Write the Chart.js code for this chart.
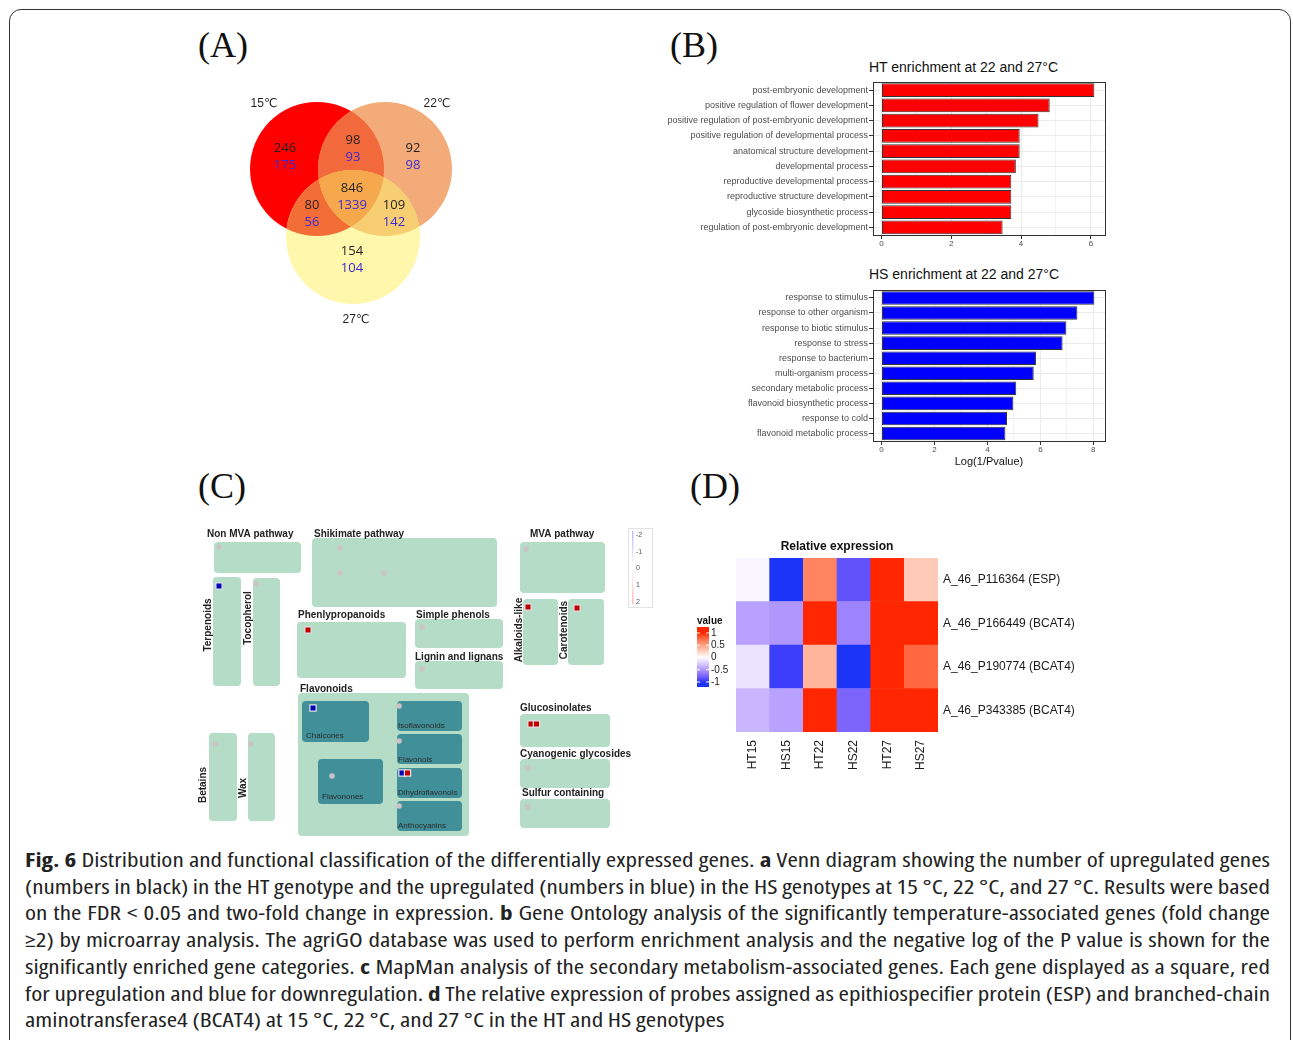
<!DOCTYPE html>
<html>
<head>
<meta charset="utf-8">
<script src="https://cdn.jsdelivr.net/npm/chart.js@4.4.1/dist/chart.umd.min.js"></script>
<style>
  body { margin: 0; width: 1293px; height: 1040px; overflow: hidden; background: #fff; position: relative;
         font-family: "Liberation Sans", Arial, sans-serif; }
  .frame { position: absolute; left: 9px; top: 9px; width: 1282px; height: 1050px; box-sizing: border-box;
           border: 1.5px solid #333; border-radius: 12px; }
  .panel { position: absolute; font-family: "Liberation Serif", "Times New Roman", serif; font-size: 36px;
           line-height: 36px; color: #111; }
  .gotitle { position: absolute; font-size: 14px; line-height: 16px; color: #111; white-space: nowrap; }
  .caption { position: absolute; left: 25px; top: 847px; width: 1245px; color: #222; transform-origin: 0 0;
             font-family: "Open Sans", "Liberation Sans", sans-serif; font-stretch: 80%;
             font-size: 20px; line-height: 26.7px; }
  .caption div { white-space: nowrap; text-align: justify; text-align-last: justify; }
  .caption div.last { text-align-last: left; }
  canvas { position: absolute; }
</style>
</head>
<body>
<div class="frame"></div>
<div class="panel" style="left:198px;top:27px">(A)</div>
<div class="panel" style="left:670px;top:27px">(B)</div>
<div class="panel" style="left:198px;top:468px">(C)</div>
<div class="panel" style="left:690px;top:468px">(D)</div>
<div class="gotitle" style="left:869px;top:59px">HT enrichment at 22 and 27°C</div>
<div class="gotitle" style="left:869px;top:266px">HS enrichment at 22 and 27°C</div>

<div class="caption">
  <div><b>Fig. 6</b> Distribution and functional classification of the differentially expressed genes. <b>a</b> Venn diagram showing the number of upregulated genes</div>
  <div>(numbers in black) in the HT genotype and the upregulated (numbers in blue) in the HS genotypes at 15 °C, 22 °C, and 27 °C. Results were based</div>
  <div>on the FDR &lt; 0.05 and two-fold change in expression. <b>b</b> Gene Ontology analysis of the significantly temperature-associated genes (fold change</div>
  <div>≥2) by microarray analysis. The agriGO database was used to perform enrichment analysis and the negative log of the P value is shown for the</div>
  <div>significantly enriched gene categories. <b>c</b> MapMan analysis of the secondary metabolism-associated genes. Each gene displayed as a square, red</div>
  <div>for upregulation and blue for downregulation. <b>d</b> The relative expression of probes assigned as epithiospecifier protein (ESP) and branched-chain</div>
  <div class="last">aminotransferase4 (BCAT4) at 15 °C, 22 °C, and 27 °C in the HT and HS genotypes</div>
</div>

<script>
// (A) Venn counts
const vennSets = ['15℃', '22℃', '27℃'];
const vennRegions = ['15', '22', '27', '15&22', '15&27', '22&27', '15&22&27'];
const htUp = [246, 92, 154, 98, 80, 109, 846];
const hsUp = [175, 98, 104, 93, 56, 142, 1339];

// (B) GO enrichment, Log(1/Pvalue)
const htTerms = ['post-embryonic development', 'positive regulation of flower development',
  'positive regulation of post-embryonic development', 'positive regulation of developmental process',
  'anatomical structure development', 'developmental process', 'reproductive developmental process',
  'reproductive structure development', 'glycoside biosynthetic process', 'regulation of post-embryonic development'];
const htScore = [6.10, 4.82, 4.50, 3.96, 3.96, 3.85, 3.72, 3.72, 3.72, 3.47];
const hsTerms = ['response to stimulus', 'response to other organism', 'response to biotic stimulus',
  'response to stress', 'response to bacterium', 'multi-organism process', 'secondary metabolic process',
  'flavonoid biosynthetic process', 'response to cold', 'flavonoid metabolic process'];
const hsScore = [8.04, 7.40, 6.98, 6.84, 5.84, 5.75, 5.09, 4.98, 4.74, 4.68];

// (C) MapMan genes
const geneBins = ['Terpenoids', 'Phenlypropanoids', 'Chalcones', 'Dihydroflavonols', 'Dihydroflavonols',
  'Alkaloids-like', 'Carotenoids', 'Glucosinolates', 'Glucosinolates'];
const geneFC = [-2, 2, -2, -2, 2, 2, 2, 2, 2];
const mapLegendTicks = [-2, -1, 0, 1, 2];

// (D) heatmap
const probes = ['A_46_P116364 (ESP)', 'A_46_P166449 (BCAT4)', 'A_46_P190774 (BCAT4)', 'A_46_P343385 (BCAT4)'];
const conditions = ['HT15', 'HS15', 'HT22', 'HS22', 'HT27', 'HS27'];
const exprESP = [-0.04, -1.0, 0.65, -0.85, 1.0, 0.28];
const expr166449 = [-0.45, -0.5, 1.0, -0.6, 1.0, 1.0];
const expr190774 = [-0.13, -0.95, 0.4, -1.0, 1.0, 0.78];
const expr343385 = [-0.35, -0.45, 1.0, -0.75, 1.0, 1.0];
const heatLegendTicks = [1, 0.5, 0, -0.5, -1];

Chart.defaults.font.family = '"Liberation Sans", Arial, sans-serif';
Chart.defaults.animation = false;
Chart.defaults.events = [];
Chart.defaults.plugins.legend.display = false;
Chart.defaults.plugins.tooltip.enabled = false;

// caption: justify each line to its widest natural width, then scale to the text block width
(function fitCaption() {
  const cap = document.querySelector('.caption');
  const lines = Array.from(cap.children);
  let w = 0;
  lines.forEach(l => { l.style.display = 'inline-block'; w = Math.max(w, l.getBoundingClientRect().width); l.style.display = ''; });
  cap.style.width = w + 'px';
  cap.style.transform = 'scaleX(' + (1245 / w) + ')';
})();

function makeCanvas(left, top, w, h) {
  const c = document.createElement('canvas');
  c.width = w; c.height = h;
  c.style.left = left + 'px'; c.style.top = top + 'px';
  c.style.width = w + 'px'; c.style.height = h + 'px';
  document.body.appendChild(c);
  return c;
}

// ---------- (A) Venn ----------
const vennCenters = [[127, 79], [195, 79], [163, 147]];
const vennRadius = 67;
const vennLabelPos = [[74, 14], [247, 14], [166, 230]];
const regionPos = [[95, 58], [223, 58], [162, 161], [163, 50], [122, 115], [204, 115], [162, 98]];

const vennPlugin = {
  id: 'venn',
  afterDatasetsDraw(chart) {
    const { ctx, scales: { x, y } } = chart;
    const c = vennCenters.map(p => [x.getPixelForValue(p[0]), y.getPixelForValue(p[1])]);
    const clip = i => { ctx.beginPath(); ctx.arc(c[i][0], c[i][1], vennRadius, 0, Math.PI * 2); ctx.clip(); };
    [[0, 1, '#f26a3b'], [0, 2, '#f36e36'], [1, 2, '#f7ce72']].forEach(([a, b, col]) => {
      ctx.save(); clip(a); clip(b); ctx.fillStyle = col; ctx.fillRect(0, 0, chart.width, chart.height); ctx.restore();
    });
    ctx.save(); clip(0); clip(1); clip(2); ctx.fillStyle = '#f5a94c'; ctx.fillRect(0, 0, chart.width, chart.height); ctx.restore();

    ctx.save();
    ctx.textAlign = 'center'; ctx.textBaseline = 'middle';
    ctx.font = '12px "Liberation Sans", "DejaVu Sans", sans-serif';
    ctx.fillStyle = '#231f20';
    vennSets.forEach((s, i) => ctx.fillText(s, x.getPixelForValue(vennLabelPos[i][0]), y.getPixelForValue(vennLabelPos[i][1])));
    ctx.font = '13px "Open Sans", "Liberation Sans", sans-serif';
    vennRegions.forEach((r, i) => {
      const px = x.getPixelForValue(regionPos[i][0]), py = y.getPixelForValue(regionPos[i][1]);
      ctx.fillStyle = '#231f20'; ctx.fillText(htUp[i], px, py);
      ctx.fillStyle = '#3b2bd4'; ctx.fillText(hsUp[i], px, py + 17);
    });
    ctx.restore();
  }
};

new Chart(makeCanvas(190, 90, 290, 250), {
  type: 'scatter',
  data: { datasets: [{ data: vennCenters.map(p => ({ x: p[0], y: p[1] })), pointRadius: vennRadius, clip: false,
    backgroundColor: ['#ff0000', '#f3ab79', '#fef7ac'], borderWidth: 0 }] },
  options: { responsive: false, layout: { padding: 0, autoPadding: false },
    scales: { x: { display: false, min: 0, max: 290 }, y: { display: false, min: 0, max: 250, reverse: true } } },
  plugins: [vennPlugin]
});

// ---------- (B) GO bars ----------
const panelBorder = {
  id: 'panelBorder',
  afterDraw(chart) {
    const a = chart.chartArea, ctx = chart.ctx;
    ctx.save(); ctx.strokeStyle = '#333'; ctx.lineWidth = 1;
    ctx.strokeRect(Math.round(a.left) + 0.5, Math.round(a.top) + 0.5, Math.round(a.right - a.left), Math.round(a.bottom - a.top));
    ctx.restore();
  }
};

function goChart(top, height, terms, scores, fill, axisH, axisTitle) {
  const hi = Math.max(...scores);
  new Chart(makeCanvas(660, top, 450, height), {
    type: 'bar',
    data: { labels: terms, datasets: [{ data: scores, backgroundColor: fill, borderColor: '#333', borderWidth: 1,
      borderSkipped: false, categoryPercentage: 0.9, barPercentage: 1 }] },
    options: {
      responsive: false, indexAxis: 'y',
      layout: { padding: { top: 5, right: 5, left: 0, bottom: 0 } },
      scales: {
        x: {
          min: -0.04 * hi, max: 1.05 * hi,
          afterFit(s) { s.height = axisH; },
          border: { display: false },
          grid: { color: '#ebebeb', lineWidth: c => (c.tick && c.tick.value % 2 === 0 ? 1 : 0.6),
            tickColor: c => (c.tick && c.tick.value % 2 === 0 ? '#333' : 'rgba(0,0,0,0)'), tickLength: 4 },
          ticks: { stepSize: 1, includeBounds: false, autoSkip: false, maxRotation: 0, padding: 0,
            color: '#4d4d4d', font: { size: 8 }, callback: v => (v % 2 === 0 ? v : '') },
          title: { display: !!axisTitle, text: axisTitle, color: '#111', font: { size: 11 }, padding: { top: 0, bottom: 7 } }
        },
        y: {
          afterFit(s) { s.width = 213; },
          border: { display: false },
          grid: { color: '#ebebeb', offset: false, tickColor: '#333', tickLength: 4 },
          ticks: { color: '#4d4d4d', font: { size: 9 }, padding: 1, autoSkip: false }
        }
      }
    },
    plugins: [panelBorder]
  });
}
goChart(76, 179, htTerms, htScore, '#ff0000', 20, '');
goChart(284, 192, hsTerms, hsScore, '#0000ff', 35, 'Log(1/Pvalue)');

// ---------- (C) MapMan ----------
const mapLayout = {
  'Non MVA pathway': { box: [19, 22, 106, 53], slot: [24, 27], label: [12, 14, 'h'] },
  'Shikimate pathway': { box: [117, 18, 302, 87], slot: [145, 28], extra: [[145, 53], [189, 53]], label: [119, 14, 'h'] },
  'Terpenoids': { box: [18, 57, 46, 166], slot: [24, 66], label: [13, 105, 'v'] },
  'Tocopherol': { box: [58, 58, 85, 166], slot: [61, 64], label: [53, 98, 'v'] },
  'Phenlypropanoids': { box: [102, 102, 211, 158], slot: [113, 110], label: [103, 95, 'h'] },
  'Simple phenols': { box: [220, 99, 308, 128], slot: [227, 107], label: [221, 95, 'h'] },
  'Lignin and lignans': { box: [220, 141, 308, 169], slot: [227, 149], label: [220, 137, 'h'] },
  'Flavonoids': { box: [103, 173, 274, 316], label: [105, 169, 'h'] },
  'Betains': { box: [14, 213, 42, 301], slot: [20, 224], label: [8, 265, 'v'] },
  'Wax': { box: [53, 213, 80, 301], slot: [56, 224], label: [48, 268, 'v'] },
  'MVA pathway': { box: [325, 22, 410, 73], slot: [331, 29], label: [335, 14, 'h'] },
  'Alkaloids-like': { box: [328, 79, 363, 145], slot: [333, 87], label: [324, 110, 'v'] },
  'Carotenoids': { box: [373, 79, 409, 145], slot: [382, 88], label: [369, 110, 'v'] },
  'Glucosinolates': { box: [325, 194, 415, 227], slot: [336, 204], label: [325, 188, 'h'] },
  'Cyanogenic glycosides': { box: [325, 239, 415, 268], slot: [333, 248], label: [325, 234, 'h'] },
  'Sulfur containing': { box: [325, 279, 415, 308], slot: [333, 287], label: [327, 273, 'h'] },
  'Chalcones': { box: [107, 181, 174, 222], slot: [118, 188], label: [111, 216, 'in'], dark: true },
  'Flavonones': { box: [123, 239, 188, 284], slot: [137, 256], label: [127, 277, 'in'], dark: true },
  'Isoflavonoids': { box: [202, 181, 267, 211], slot: [204, 186], label: [203, 206, 'in'], dark: true },
  'Flavonols': { box: [202, 214, 267, 244], slot: [204, 221], label: [203, 240, 'in'], dark: true },
  'Dihydroflavonols': { box: [202, 248, 267, 278], slot: [207, 253], label: [203, 273, 'in'], dark: true },
  'Anthocyanins': { box: [202, 281, 267, 311], slot: [204, 286], label: [203, 306, 'in'], dark: true }
};

const genePoints = [];
const geneCount = {};
geneBins.forEach((b, i) => {
  const k = geneCount[b] || 0; geneCount[b] = k + 1;
  const s = mapLayout[b].slot;
  genePoints.push({ x: s[0] + k * 5.5, y: s[1], v: geneFC[i] });
});
const emptyPoints = [];
Object.keys(mapLayout).forEach(b => {
  const L = mapLayout[b];
  if (L.slot && !geneCount[b]) emptyPoints.push({ x: L.slot[0], y: L.slot[1] });
  (L.extra || []).forEach(p => emptyPoints.push({ x: p[0], y: p[1] }));
});

const mapPlugin = {
  id: 'mapman',
  beforeDatasetsDraw(chart) {
    const { ctx, scales: { x, y } } = chart;
    ctx.save();
    Object.keys(mapLayout).forEach(b => {
      const L = mapLayout[b];
      const x0 = x.getPixelForValue(L.box[0]), y0 = y.getPixelForValue(L.box[1]);
      const x1 = x.getPixelForValue(L.box[2]), y1 = y.getPixelForValue(L.box[3]);
      ctx.fillStyle = L.dark ? '#418f99' : '#b4dcc7';
      ctx.beginPath(); ctx.roundRect(x0, y0, x1 - x0, y1 - y0, 4); ctx.fill();
      const lx = x.getPixelForValue(L.label[0]), ly = y.getPixelForValue(L.label[1]);
      ctx.textBaseline = 'middle';
      if (L.label[2] === 'in') {
        ctx.font = '8px "Liberation Sans", Arial, sans-serif'; ctx.fillStyle = '#2a2a2a'; ctx.textAlign = 'left';
        ctx.fillText(b, lx, ly);
      } else if (L.label[2] === 'v') {
        ctx.font = 'bold 10px "Liberation Sans", Arial, sans-serif'; ctx.fillStyle = '#222'; ctx.textAlign = 'center';
        ctx.save(); ctx.translate(lx, ly); ctx.rotate(-Math.PI / 2); ctx.fillText(b, 0, 0); ctx.restore();
      } else {
        ctx.font = 'bold 10px "Liberation Sans", Arial, sans-serif'; ctx.fillStyle = '#222'; ctx.textAlign = 'left';
        ctx.fillText(b, lx, ly);
      }
    });
    // colour legend
    const gx = x.getPixelForValue(433), gy = y.getPixelForValue(8);
    ctx.strokeStyle = '#e3e3e3'; ctx.lineWidth = 1;
    ctx.strokeRect(gx + 0.5, gy + 0.5, 24, 79);
    const g = ctx.createLinearGradient(0, gy + 3, 0, gy + 76);
    g.addColorStop(0, '#b8b8ff'); g.addColorStop(0.5, '#ffffff'); g.addColorStop(1, '#ffb8b8');
    ctx.fillStyle = g; ctx.fillRect(gx + 4, gy + 3, 1.5, 73);
    ctx.font = '7px "Liberation Sans", Arial, sans-serif'; ctx.fillStyle = '#555'; ctx.textAlign = 'left';
    mapLegendTicks.forEach((t, i) => ctx.fillText(t, gx + 8, y.getPixelForValue(15 + i * 16.75)));
    ctx.restore();
  }
};

new Chart(makeCanvas(195, 520, 465, 320), {
  type: 'scatter',
  data: { datasets: [
    { data: emptyPoints, pointRadius: 2.8, backgroundColor: '#cbc3c6', borderWidth: 0, clip: false },
    { data: genePoints, pointStyle: 'rect', pointRadius: 4.4, clip: false,
      backgroundColor: genePoints.map(p => (p.v > 0 ? '#c00000' : '#0000b8')),
      borderColor: '#e4e4e4', borderWidth: 1.2 }
  ] },
  options: { responsive: false, layout: { padding: 0, autoPadding: false },
    scales: { x: { display: false, min: 0, max: 465 }, y: { display: false, min: 0, max: 320, reverse: true } } },
  plugins: [mapPlugin]
});

// ---------- (D) heatmap ----------
function toLin(c) { c /= 255; return c <= 0.04045 ? c / 12.92 : Math.pow((c + 0.055) / 1.055, 2.4); }
function toSrgb(c) { const v = c <= 0.0031308 ? 12.92 * c : 1.055 * Math.pow(c, 1 / 2.4) - 0.055; return Math.round(Math.max(0, Math.min(1, v)) * 255); }
function hexLab(h) {
  const r = toLin(parseInt(h.substr(1, 2), 16)), g = toLin(parseInt(h.substr(3, 2), 16)), b = toLin(parseInt(h.substr(5, 2), 16));
  const X = (0.4124 * r + 0.3576 * g + 0.1805 * b) / 0.95047, Y = 0.2126 * r + 0.7152 * g + 0.0722 * b, Z = (0.0193 * r + 0.1192 * g + 0.9505 * b) / 1.08883;
  const f = t => (t > 0.008856 ? Math.cbrt(t) : 7.787 * t + 16 / 116);
  return [116 * f(Y) - 16, 500 * (f(X) - f(Y)), 200 * (f(Y) - f(Z))];
}
function labRgb(L, a, b) {
  const fy = (L + 16) / 116, fx = a / 500 + fy, fz = fy - b / 200;
  const fi = t => (t * t * t > 0.008856 ? t * t * t : (t - 16 / 116) / 7.787);
  const X = 0.95047 * fi(fx), Y = fi(fy), Z = 1.08883 * fi(fz);
  return 'rgb(' + toSrgb(3.2406 * X - 1.5372 * Y - 0.4986 * Z) + ',' + toSrgb(-0.9689 * X + 1.8758 * Y + 0.0415 * Z) + ',' +
    toSrgb(0.0557 * X - 0.2040 * Y + 1.0570 * Z) + ')';
}
const labLow = hexLab('#1a34f8'), labMid = hexLab('#ffffff'), labHigh = hexLab('#ff2600');
function heatColor(v) {
  const t = Math.max(-1, Math.min(1, v));
  const end = t < 0 ? labLow : labHigh, k = Math.abs(t);
  return labRgb(labMid[0] + (end[0] - labMid[0]) * k, labMid[1] + (end[1] - labMid[1]) * k, labMid[2] + (end[2] - labMid[2]) * k);
}

const exprRows = [exprESP, expr166449, expr190774, expr343385];

const heatPlugin = {
  id: 'heatDeco',
  afterDraw(chart) {
    const { ctx, chartArea } = chart;
    ctx.save();
    ctx.fillStyle = '#111'; ctx.textAlign = 'center'; ctx.textBaseline = 'middle';
    ctx.font = 'bold 12px "Liberation Sans", Arial, sans-serif';
    ctx.fillText('Relative expression', (chartArea.left + chartArea.right) / 2, 12);
    // legend
    ctx.textAlign = 'left';
    ctx.font = 'bold 10px "Liberation Sans", Arial, sans-serif';
    ctx.fillText('value', 7, 86);
    const top = 92, bot = 152, mid = 122.5, per = 24.5;
    const g = ctx.createLinearGradient(0, top, 0, bot);
    for (let i = 0; i <= 20; i++) {
      const yy = top + (bot - top) * i / 20;
      g.addColorStop(i / 20, heatColor((mid - yy) / per));
    }
    ctx.fillStyle = g; ctx.fillRect(7, top, 12, bot - top);
    ctx.font = '10px "Liberation Sans", Arial, sans-serif'; ctx.fillStyle = '#222';
    ctx.strokeStyle = '#fff'; ctx.lineWidth = 1;
    heatLegendTicks.forEach(t => {
      const yy = mid - t * per;
      ctx.beginPath(); ctx.moveTo(7, yy); ctx.lineTo(10, yy); ctx.moveTo(16, yy); ctx.lineTo(19, yy); ctx.stroke();
      ctx.fillText(t, 21, yy);
    });
    ctx.restore();
  }
};

new Chart(makeCanvas(690, 535, 420, 240), {
  type: 'bar',
  data: {
    labels: conditions,
    datasets: exprRows.map((row, i) => ({ label: probes[i], data: row.map(() => 1), backgroundColor: row.map(heatColor),
      borderWidth: 0, categoryPercentage: 1, barPercentage: 1 })).reverse()
  },
  options: {
    responsive: false,
    layout: { padding: { left: 46, top: 23, right: 0, bottom: 0 } },
    scales: {
      x: { stacked: true, afterFit(s) { s.height = 43; }, grid: { display: false }, border: { display: false },
        ticks: { minRotation: 90, maxRotation: 90, color: '#1a1a1a', font: { size: 12 }, padding: 0 } },
      y: { stacked: true, position: 'right', min: 0, max: probes.length, afterFit(s) { s.width = 172; },
        afterBuildTicks(s) { s.ticks = probes.map((p, i) => ({ value: probes.length - i - 0.5 })); },
        grid: { display: false, drawTicks: false }, border: { display: false },
        ticks: { color: '#1a1a1a', font: { size: 12 }, padding: 5,
          callback: v => probes[Math.round(probes.length - 0.5 - v)] } }
    }
  },
  plugins: [heatPlugin]
});
</script>
</body>
</html>
